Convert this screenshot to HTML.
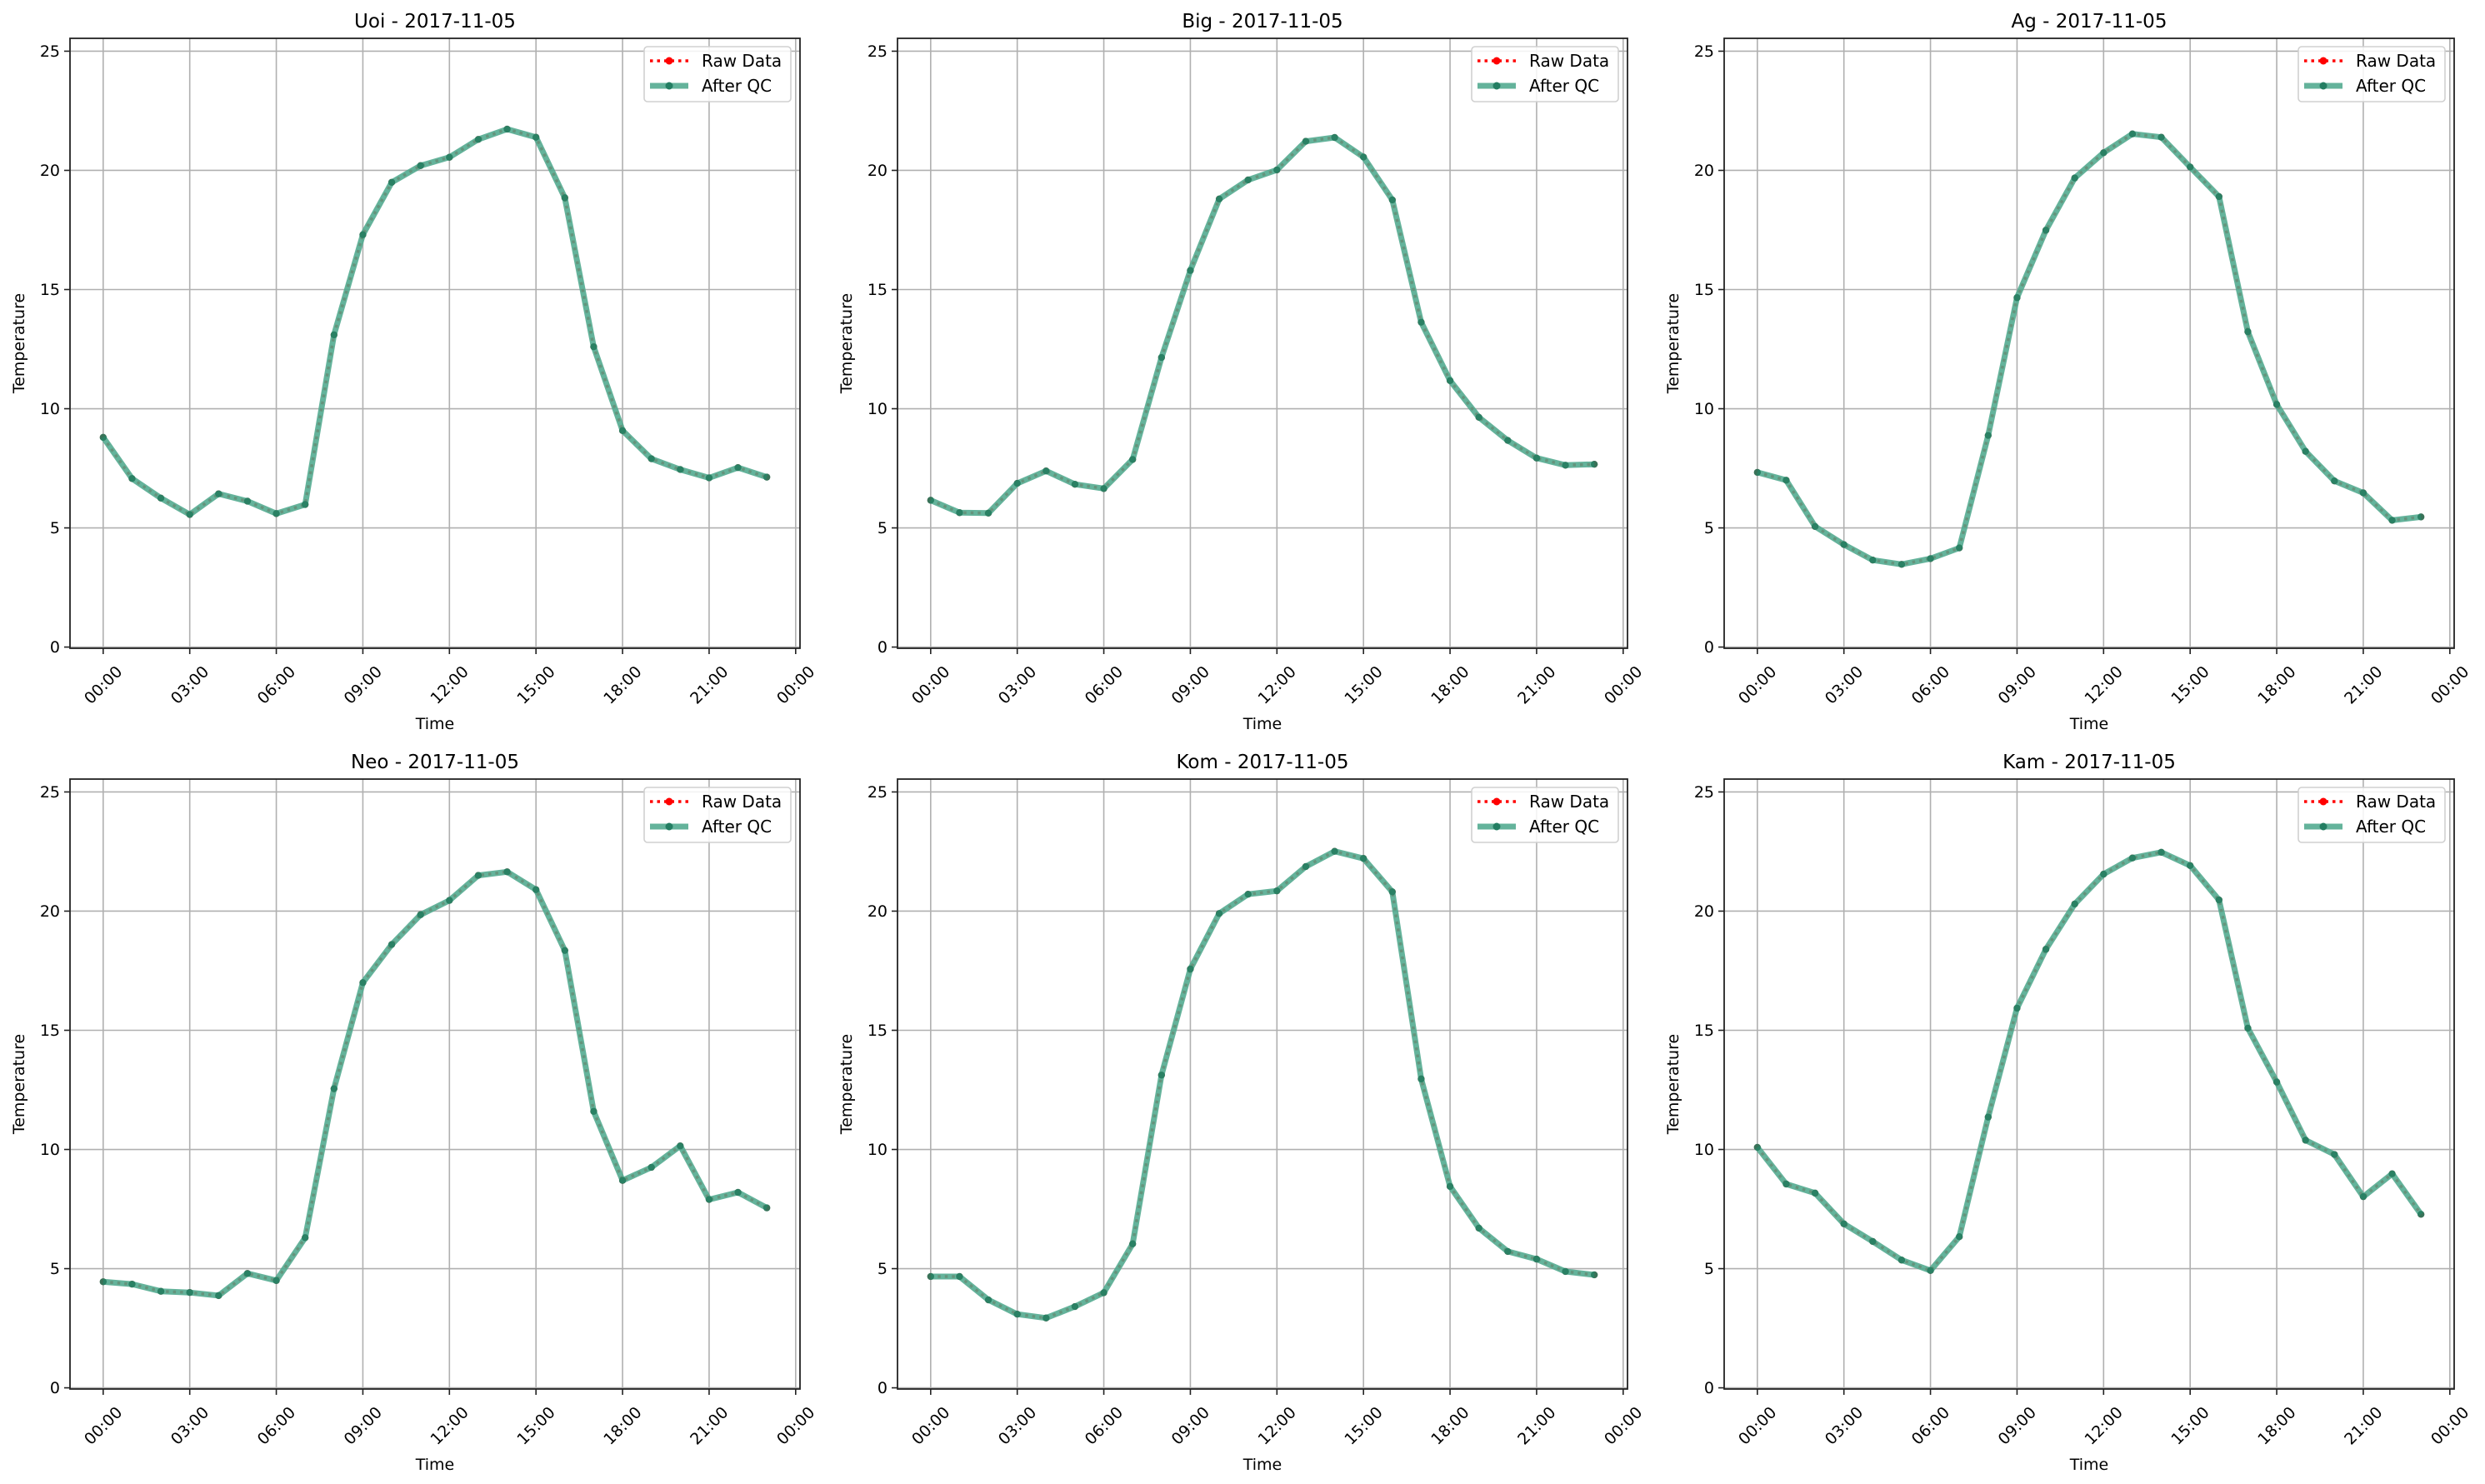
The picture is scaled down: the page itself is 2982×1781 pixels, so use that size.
<!DOCTYPE html>
<html><head><meta charset="utf-8">
<style>
html,body{margin:0;padding:0;background:#fff;}
svg{display:block;font-family:"DejaVu Sans","Liberation Sans",sans-serif;}
</style></head>
<body>
<svg id="fig" xmlns="http://www.w3.org/2000/svg" width="2982" height="1781" viewBox="0 0 2982 1781"></svg>
<script>
const stations = ["Uoi","Big","Ag","Neo","Kom","Kam"];
const dateLabel = "2017-11-05";
const hours = [0,1,2,3,4,5,6,7,8,9,10,11,12,13,14,15,16,17,18,19,20,21,22,23];
const uoiValues = [8.8,7.07,6.25,5.56,6.43,6.12,5.6,5.98,13.1,17.3,19.5,20.2,20.55,21.3,21.73,21.39,18.85,12.6,9.08,7.9,7.45,7.1,7.53,7.13];
const bigValues = [6.16,5.64,5.62,6.87,7.39,6.83,6.65,7.87,12.15,15.8,18.8,19.6,20.02,21.22,21.38,20.56,18.76,13.63,11.18,9.64,8.67,7.93,7.63,7.67];
const agValues = [7.33,7.0,5.06,4.3,3.65,3.47,3.71,4.16,8.88,14.66,17.49,19.68,20.74,21.53,21.39,20.14,18.9,13.23,10.18,8.21,6.97,6.47,5.32,5.46];
const neoValues = [4.45,4.35,4.05,4.0,3.87,4.8,4.5,6.3,12.55,17.0,18.6,19.85,20.45,21.5,21.65,20.9,18.35,11.6,8.7,9.25,10.15,7.9,8.2,7.55];
const komValues = [4.67,4.67,3.69,3.09,2.93,3.41,3.99,6.04,13.12,17.57,19.9,20.71,20.85,21.87,22.51,22.21,20.81,12.96,8.45,6.7,5.72,5.4,4.88,4.74];
const kamValues = [10.09,8.55,8.17,6.88,6.14,5.36,4.92,6.34,11.36,15.93,18.4,20.3,21.55,22.23,22.47,21.91,20.47,15.09,12.83,10.39,9.79,8.02,8.98,7.28];
const yTicks = [0,5,10,15,20,25];
const xTickHours = [0,3,6,9,12,15,18,21,24];
const xTickLabels = ["00:00","03:00","06:00","09:00","12:00","15:00","18:00","21:00","00:00"];

const seriesList = [uoiValues,bigValues,agValues,neoValues,komValues,kamValues];
const NS = "http://www.w3.org/2000/svg";
const svg = document.getElementById("fig");
const colLefts = [84,1077,2069];
const rowTops = [46,935];
const AW = 876, AH = 732;
const XMIN = -1.15, XMAX = 24.15, YMIN = -0.05, YMAX = 25.54;
const QC = "#4fa98d";

function mk(tag, attrs, parent){
  const e = document.createElementNS(NS, tag);
  for (const k in attrs) e.setAttribute(k, attrs[k]);
  parent.appendChild(e);
  return e;
}

stations.forEach((name, i) => {
  const L = colLefts[i % 3], T = rowTops[Math.floor(i / 3)];
  const xs = h => L + (h - XMIN) / (XMAX - XMIN) * AW;
  const ys = v => T + AH - (v - YMIN) / (YMAX - YMIN) * AH;
  const vals = seriesList[i];
  const g = mk("g", {}, svg);
  
  

  xTickHours.forEach(h => {
    const ln = mk("line", {x1: xs(h), x2: xs(h), y1: T, y2: T + AH, stroke: "#b0b0b0", "stroke-width": 1.6}, g);
    
    
  });
  yTicks.forEach(v => {
    const ln = mk("line", {x1: L, x2: L + AW, y1: ys(v), y2: ys(v), stroke: "#b0b0b0", "stroke-width": 1.6}, g);
    
    
  });

  const pts = vals.map((v, k) => xs(hours[k]).toFixed(1) + "," + ys(v).toFixed(1)).join(" ");
  const raw = mk("polyline", {points: pts, fill: "none", stroke: "#ff0000", "stroke-width": 3.5, "stroke-dasharray": "3.5,5"}, g);
  
  
  vals.forEach((v, k) => {
    const c = mk("circle", {cx: xs(hours[k]), cy: ys(v), r: 4, fill: "#ff0000"}, g);
    
    
  });
  const qc = mk("polyline", {points: pts, fill: "none", stroke: QC, "stroke-opacity": 0.88, "stroke-width": 7, "stroke-linejoin": "round"}, g);
  
  
  vals.forEach((v, k) => {
    const c = mk("circle", {cx: xs(hours[k]), cy: ys(v), r: 4.2, fill: "#237e62", "fill-opacity": 0.9}, g);
    
    
  });

  const sp = mk("rect", {x: L, y: T, width: AW, height: AH, fill: "none", stroke: "#222", "stroke-width": 1.8}, g);
  
  

  yTicks.forEach(v => {
    const tk = mk("line", {x1: L - 7, x2: L, y1: ys(v), y2: ys(v), stroke: "#222", "stroke-width": 1.6}, g);
    
    
    const t = mk("text", {x: L - 12, y: ys(v) + 6.5, "text-anchor": "end", "font-size": 19, fill: "#000"}, g);
    t.textContent = String(v);
    
    
  });
  xTickHours.forEach((h, k) => {
    const tk = mk("line", {x1: xs(h), x2: xs(h), y1: T + AH, y2: T + AH + 7, stroke: "#222", "stroke-width": 1.6}, g);
    
    
    const cx = xs(h), cy = T + AH + 44;
    const t = mk("text", {x: cx, y: cy + 6.5, "text-anchor": "middle", "font-size": 19, fill: "#000", transform: "rotate(-45 " + cx + " " + cy + ")"}, g);
    t.textContent = xTickLabels[k];
    
    
  });

  const title = mk("text", {x: L + AW / 2, y: T - 13, "text-anchor": "middle", "font-size": 23, fill: "#000"}, g);
  title.textContent = name + " - " + dateLabel;
  
  
  const xl = mk("text", {x: L + AW / 2, y: T + AH + 97, "text-anchor": "middle", "font-size": 19, fill: "#000"}, g);
  xl.textContent = "Time";
  
  
  const ycx = L - 62, ycy = T + AH / 2;
  const yl = mk("text", {x: ycx, y: ycy + 7, "text-anchor": "middle", "font-size": 19, fill: "#000", transform: "rotate(-90 " + ycx + " " + ycy + ")"}, g);
  yl.textContent = "Temperature";
  
  

  const lx = L + AW - 187, ly = T + 10;
  const lg = mk("g", {}, g);
  
  
  mk("rect", {x: lx, y: ly, width: 176, height: 66, rx: 4, fill: "#fff", "fill-opacity": 0.85, stroke: "#d0d0d0", "stroke-width": 1.6}, lg);
  const r1 = ly + 17, r2 = ly + 47;
  mk("line", {x1: lx + 7, x2: lx + 53, y1: r1, y2: r1, stroke: "#ff0000", "stroke-width": 3.5, "stroke-dasharray": "3.5,5"}, lg);
  mk("circle", {cx: lx + 30, cy: r1, r: 4.5, fill: "#ff0000"}, lg);
  const t1 = mk("text", {x: lx + 69, y: r1 + 7, "font-size": 20, fill: "#000"}, lg);
  t1.textContent = "Raw Data";
  
  
  mk("line", {x1: lx + 7, x2: lx + 53, y1: r2, y2: r2, stroke: QC, "stroke-opacity": 0.88, "stroke-width": 7}, lg);
  mk("circle", {cx: lx + 30, cy: r2, r: 4.5, fill: "#237e62"}, lg);
  const t2 = mk("text", {x: lx + 69, y: r2 + 7, "font-size": 20, fill: "#000"}, lg);
  t2.textContent = "After QC";
  
  
});
</script>
</body></html>
